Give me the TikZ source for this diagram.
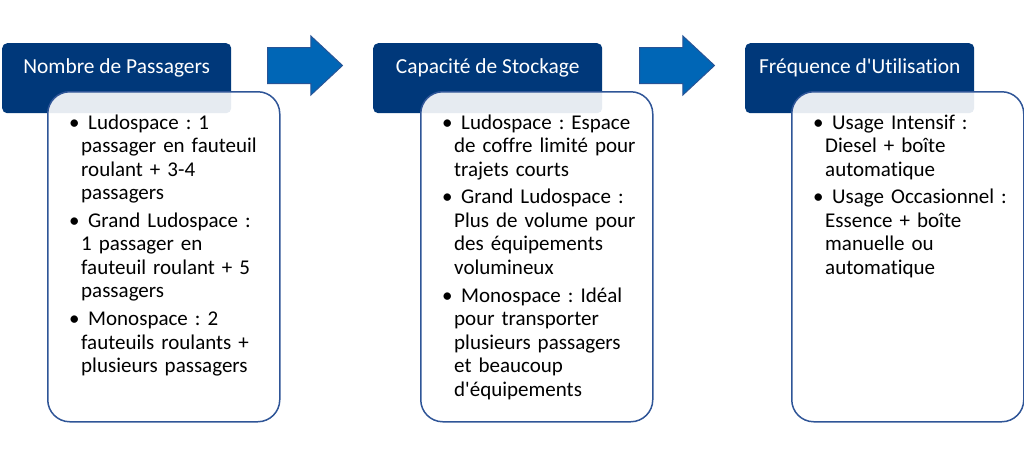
\documentclass[tikz,border=0pt]{standalone}
\usepackage{fontspec}
\setmainfont{Carlito}[Ligatures={NoCommon}]
\usepackage{tikz}
\usetikzlibrary{shapes,arrows,positioning,calc}
\usepackage{xcolor}
\definecolor{headerblue}{RGB}{0,56,122}
\definecolor{arrowblue}{RGB}{0,102,182}
\definecolor{arrowedge}{RGB}{40,84,150}
\definecolor{frameblue}{RGB}{47,85,151}
\frenchspacing

\newcommand{\itempoint}[1]{\par\setlength{\parskip}{4.3pt}\hangindent=12pt\hangafter=1\noindent\makebox[12pt][l]{•}\ #1\par}

\begin{document}
\begin{tikzpicture}[x=1pt, y=-1pt,
    font=\fontsize{21}{23.5}\selectfont,
    header/.style={fill=headerblue, rounded corners=5pt, inner sep=0pt, minimum width=229pt, minimum height=70pt, text=white, font=\fontsize{21.4}{24}\selectfont, text height=15pt, text depth=24.4pt, anchor=north west},
    panel/.style={draw=frameblue, line width=1.5pt, fill=white, fill opacity=0.9, rounded corners=22pt, minimum width=232pt, minimum height=330pt, inner sep=0pt, anchor=north west},
    bodytext/.style={anchor=base west, inner sep=0pt, text width=215pt},
    bigarrow/.style={single arrow, fill=arrowblue, draw=arrowedge, line width=1pt, minimum height=75pt, inner xsep=0pt, inner ysep=17.5pt, single arrow head extend=11.5pt, single arrow tip angle=86, single arrow head indent=0pt, anchor=tail}]
    \useasboundingbox (0,0) rectangle (1024,464);

    % headers
    \node[header] (hdrA) at (2,43) {Nombre de Passagers};
    \node[header] (hdrB) at (373,43) {Capacité de Stockage};
    \node[header] (hdrC) at (745,43) {Fréquence d\textquotesingle Utilisation};

    % panels
    \node[panel] (boxA) at (47,91) {};
    \node[panel] (boxB) at (420,91) {};
    \node[panel] (boxC) at (791,91) {};

    \node[bodytext] (txtA) at ($(boxA.north west)+(22,10.3)$) {%
        \itempoint{Ludospace : 1\newline passager en fauteuil\newline roulant + 3-4\newline passagers}%
        \itempoint{Grand Ludospace :\newline 1 passager en\newline fauteuil roulant + 5\newline passagers}%
        \itempoint{Monospace : 2\newline fauteuils roulants +\newline plusieurs passagers}};
    \node[bodytext] (txtB) at ($(boxB.north west)+(22,10.3)$) {%
        \itempoint{Ludospace : Espace\newline de coffre limité pour\newline trajets courts}%
        \itempoint{Grand Ludospace :\newline Plus de volume pour\newline des équipements\newline volumineux}%
        \itempoint{Monospace : Idéal\newline pour transporter\newline plusieurs passagers\newline et beaucoup\newline d\textquotesingle équipements}};
    \node[bodytext] (txtC) at ($(boxC.north west)+(22,10.3)$) {%
        \itempoint{Usage Intensif :\newline Diesel + boîte\newline automatique}%
        \itempoint{Usage Occasionnel :\newline Essence + boîte\newline manuelle ou\newline automatique}};

    % arrows
    \node[bigarrow] (arrAB) at (267,65.5) {};
    \node[bigarrow] (arrBC) at (639,65.5) {};
\end{tikzpicture}
\end{document}
